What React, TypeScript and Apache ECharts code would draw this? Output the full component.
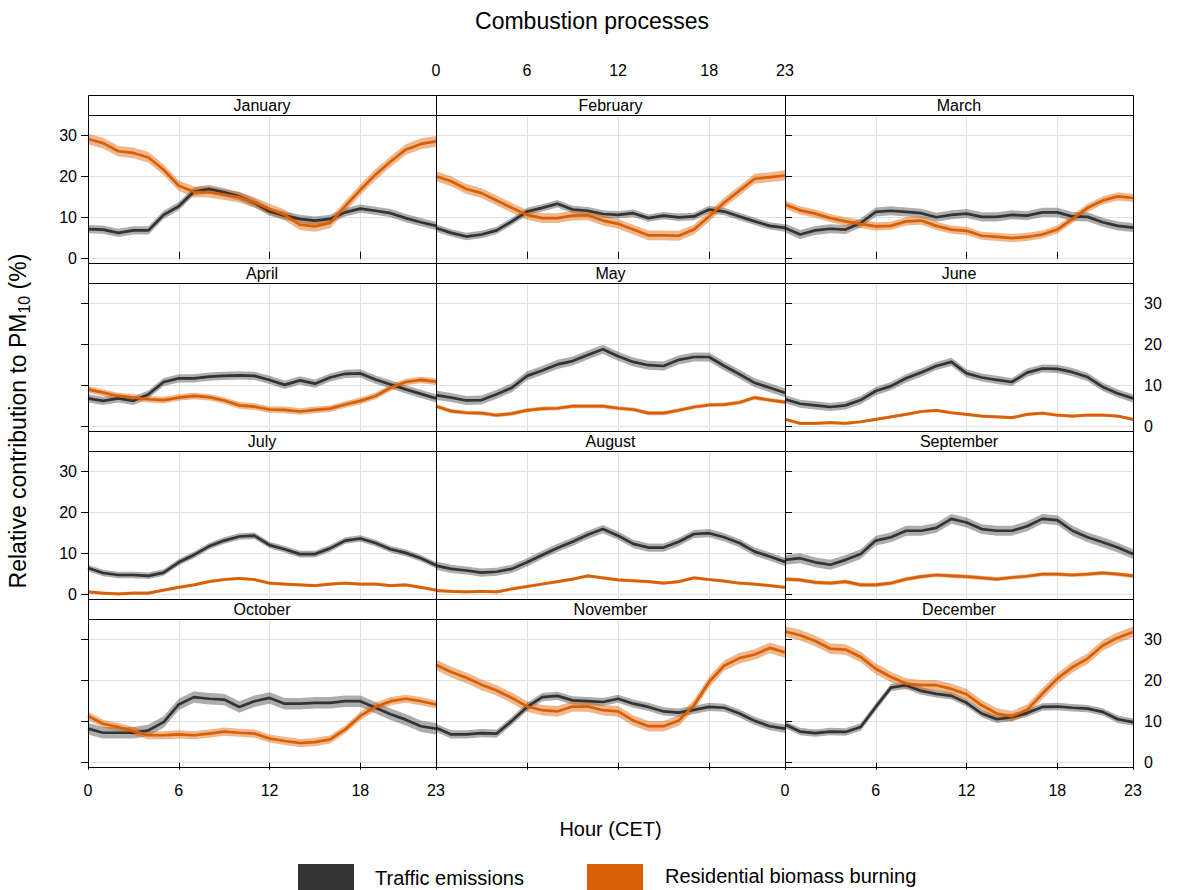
import React, { useEffect, useRef } from "react";
import * as echarts from "echarts";

// Hour of day (CET)
const hours = [0, 1, 2, 3, 4, 5, 6, 7, 8, 9, 10, 11, 12, 13, 14, 15, 16, 17, 18, 19, 20, 21, 22, 23];

const months = [
  "January", "February", "March", "April", "May", "June",
  "July", "August", "September", "October", "November", "December",
];

// Relative contribution to PM10 (%) of traffic emissions, by hour
const trafficJan = [7.2, 7.1, 6.3, 6.9, 6.9, 10.7, 12.8, 16.4, 17.0, 16.2, 15.2, 13.6, 11.5, 10.5, 9.7, 9.3, 9.7, 11.3, 12.2, 11.7, 11.1, 9.9, 8.9, 8.0];
const trafficFeb = [7.5, 6.3, 5.4, 5.9, 6.9, 9.1, 11.5, 12.4, 13.4, 12.0, 11.7, 10.9, 10.7, 11.1, 9.9, 10.5, 10.1, 10.3, 12.0, 11.5, 10.3, 9.1, 8.0, 7.5];
const trafficMar = [7.5, 5.9, 6.9, 7.3, 7.1, 8.7, 11.4, 11.7, 11.4, 11.1, 10.1, 10.7, 11.0, 10.2, 10.2, 10.7, 10.5, 11.3, 11.3, 10.3, 10.2, 8.9, 8.0, 7.6];
const trafficApr = [6.9, 6.3, 6.9, 6.3, 7.9, 10.9, 11.8, 11.8, 12.2, 12.4, 12.5, 12.4, 11.4, 10.2, 11.3, 10.5, 12.0, 12.9, 13.0, 11.5, 10.3, 9.1, 8.0, 6.9];
const trafficMay = [7.7, 7.1, 6.4, 6.5, 7.9, 9.5, 12.4, 13.7, 15.2, 16.0, 17.5, 18.9, 17.2, 15.8, 15.0, 14.8, 16.3, 17.0, 17.0, 14.8, 12.8, 10.7, 9.5, 8.3];
const trafficJun = [6.7, 5.6, 5.2, 4.8, 5.2, 6.5, 8.7, 9.9, 11.8, 13.2, 14.8, 15.8, 13.0, 12.0, 11.4, 10.9, 13.2, 14.2, 14.1, 13.3, 12.1, 9.7, 8.1, 6.9];
const trafficJul = [6.5, 5.3, 4.8, 4.8, 4.6, 5.4, 7.9, 9.7, 11.8, 13.2, 14.2, 14.4, 12.1, 11.1, 9.9, 9.9, 11.3, 13.2, 13.7, 12.6, 11.1, 10.2, 8.9, 7.2];
const trafficAug = [7.1, 6.3, 5.9, 5.4, 5.6, 6.3, 7.9, 9.7, 11.4, 12.9, 14.6, 16.0, 14.4, 12.4, 11.5, 11.5, 12.9, 14.8, 15.0, 14.0, 12.6, 10.5, 9.3, 8.0];
const trafficSep = [8.5, 8.9, 7.9, 7.3, 8.5, 9.9, 13.2, 14.0, 15.6, 15.6, 16.3, 18.5, 17.6, 16.0, 15.6, 15.6, 16.7, 18.5, 18.2, 15.6, 14.0, 12.8, 11.5, 9.9];
const trafficOct = [8.3, 7.3, 7.3, 7.3, 7.9, 9.9, 14.2, 16.0, 15.6, 15.4, 13.6, 15.0, 15.8, 14.4, 14.4, 14.6, 14.6, 15.0, 15.0, 13.4, 11.8, 10.5, 8.9, 8.3];
const trafficNov = [8.5, 6.9, 6.9, 7.2, 7.1, 10.2, 13.6, 16.0, 16.3, 15.2, 15.0, 14.8, 15.6, 14.4, 13.6, 12.5, 12.2, 12.9, 13.6, 13.4, 12.0, 10.2, 8.9, 8.3];
const trafficDec = [9.3, 7.6, 7.2, 7.6, 7.5, 8.7, 13.6, 18.3, 18.9, 17.5, 16.8, 16.3, 14.6, 12.0, 10.6, 11.1, 12.1, 13.6, 13.7, 13.4, 13.2, 12.4, 10.6, 9.9];

// Relative contribution to PM10 (%) of residential biomass burning, by hour
const biomassJan = [29.2, 28.2, 26.2, 25.8, 24.7, 21.7, 17.8, 16.3, 16.2, 15.6, 15.0, 13.7, 12.1, 10.7, 8.3, 7.9, 8.7, 12.8, 16.8, 20.5, 23.7, 26.6, 28.0, 28.6];
const biomassFeb = [20.1, 18.9, 17.0, 16.0, 14.2, 12.4, 10.7, 9.9, 9.9, 10.5, 10.6, 9.3, 8.5, 7.1, 5.7, 5.7, 5.6, 7.1, 10.3, 13.7, 16.6, 19.5, 19.9, 20.3];
const biomassMar = [13.2, 11.8, 11.0, 9.9, 9.1, 8.5, 7.9, 8.0, 9.1, 9.3, 8.0, 7.1, 6.8, 5.6, 5.3, 5.0, 5.3, 5.9, 7.1, 9.7, 12.4, 14.2, 15.2, 14.8];
const biomassApr = [9.1, 8.3, 7.5, 7.1, 6.7, 6.5, 7.1, 7.5, 7.2, 6.4, 5.2, 4.9, 4.2, 4.1, 3.7, 4.1, 4.4, 5.4, 6.3, 7.5, 9.5, 10.9, 11.4, 11.0];
const biomassMay = [5.0, 3.8, 3.4, 3.3, 2.8, 3.2, 4.0, 4.4, 4.5, 5.0, 5.0, 5.0, 4.5, 4.2, 3.3, 3.3, 4.0, 4.8, 5.3, 5.4, 5.9, 7.1, 6.5, 6.0];
const biomassJun = [1.8, 0.8, 0.8, 1.0, 0.8, 1.2, 1.8, 2.4, 3.0, 3.7, 4.0, 3.4, 3.0, 2.6, 2.4, 2.2, 3.0, 3.3, 2.8, 2.6, 2.8, 2.8, 2.6, 1.8];
const biomassJul = [0.7, 0.4, 0.2, 0.4, 0.4, 1.1, 1.8, 2.4, 3.2, 3.7, 4.0, 3.7, 2.8, 2.6, 2.4, 2.2, 2.6, 2.8, 2.6, 2.6, 2.2, 2.4, 1.8, 1.1];
const biomassAug = [1.0, 0.8, 0.7, 0.8, 0.7, 1.4, 2.0, 2.6, 3.2, 3.8, 4.6, 4.1, 3.6, 3.4, 3.2, 2.8, 3.2, 4.1, 3.7, 3.3, 2.8, 2.6, 2.2, 1.8];
const biomassSep = [3.8, 3.6, 3.0, 2.8, 3.2, 2.4, 2.4, 2.8, 3.8, 4.4, 4.8, 4.6, 4.4, 4.1, 3.8, 4.2, 4.5, 5.0, 5.0, 4.8, 5.0, 5.3, 5.0, 4.6];
const biomassOct = [11.4, 9.5, 8.7, 7.7, 6.7, 6.7, 6.9, 6.7, 7.1, 7.6, 7.3, 7.1, 5.9, 5.3, 4.8, 5.0, 5.7, 8.1, 11.4, 13.6, 15.0, 15.6, 15.0, 14.2];
const biomassNov = [23.9, 22.1, 20.7, 19.0, 17.6, 15.8, 13.7, 12.8, 12.5, 13.7, 13.7, 12.8, 12.5, 10.3, 8.9, 8.9, 10.3, 14.0, 19.7, 23.7, 25.5, 26.4, 28.0, 26.9];
const biomassDec = [32.0, 31.1, 29.7, 27.8, 27.6, 25.8, 22.9, 20.9, 19.3, 18.9, 18.9, 18.0, 16.7, 14.0, 12.0, 11.3, 12.9, 16.8, 20.5, 23.3, 25.4, 28.6, 30.5, 31.9];

// Half-width of the confidence band per month
const trafficBand = [1.0, 0.9, 1.1, 1.0, 1.1, 1.0, 0.8, 1.0, 1.2, 1.4, 1.0, 0.9];
const biomassBand = [1.3, 1.2, 1.0, 0.8, 0.5, 0.4, 0.4, 0.4, 0.5, 1.0, 1.3, 1.3];

const xTicks = [0, 6, 12, 18, 23];
const yTicks = [0, 10, 20, 30];

const trafficByMonth = [trafficJan, trafficFeb, trafficMar, trafficApr, trafficMay, trafficJun, trafficJul, trafficAug, trafficSep, trafficOct, trafficNov, trafficDec];
const biomassByMonth = [biomassJan, biomassFeb, biomassMar, biomassApr, biomassMay, biomassJun, biomassJul, biomassAug, biomassSep, biomassOct, biomassNov, biomassDec];

const FONT = "'Liberation Sans', Arial, Helvetica, sans-serif";
const TRAFFIC = "#333333";
const BIOMASS = "#d95f02";
const TRAFFIC_FILL = "rgba(51,51,51,0.4)";
const BIOMASS_FILL = "rgba(217,95,2,0.45)";

const LEFT = 88;
const RIGHT = 1133;
const TOP = 95;
const STRIP_H = 20;
const ROW_H = 168;
const COL_W = (RIGHT - LEFT) / 3;
const Y_MIN = -1.05;
const Y_MAX = 35.05;

// Polygon band between lower and upper bounds, drawn once per series
function bandSeries(i: number, values: number[], half: number, fill: string, name: string) {
  const data = hours.map((h) => [h, values[h] - half, values[h] + half]);
  return {
    type: "custom",
    name,
    xAxisIndex: i,
    yAxisIndex: i,
    silent: true,
    encode: { x: 0, y: [1, 2] },
    data,
    renderItem: (params: any, api: any) => {
      if (params.dataIndex !== 0) return null;
      const upper = data.map((d) => api.coord([d[0], d[2]]));
      const lower = data.map((d) => api.coord([d[0], d[1]])).reverse();
      return {
        type: "polygon",
        shape: { points: upper.concat(lower) },
        style: { fill, stroke: "none" },
      };
    },
  };
}

function buildOption() {
  const grid: any[] = [];
  const xAxis: any[] = [];
  const yAxis: any[] = [];
  const series: any[] = [];
  const graphics: any[] = [];

  months.forEach((name, i) => {
    const r = Math.floor(i / 3);
    const c = i % 3;
    const x0 = Math.round(LEFT + c * COL_W);
    const x1 = Math.round(LEFT + (c + 1) * COL_W);
    const stripTop = TOP + r * ROW_H;
    const plotTop = stripTop + STRIP_H;
    const plotH = ROW_H - STRIP_H;

    grid.push({ left: x0, top: plotTop, width: x1 - x0, height: plotH, containLabel: false });

    const showXTicks = r === 0 || r === 3;
    const showXLabels = (r === 0 && c === 1) || (r === 3 && c !== 1);
    xAxis.push({
      gridIndex: i,
      type: "value",
      min: 0,
      max: 23,
      position: r === 0 ? "top" : "bottom",
      offset: r === 0 ? STRIP_H : 0,
      axisLine: { show: false },
      axisTick: { show: showXTicks, length: 7, customValues: xTicks, lineStyle: { color: "#000", width: 1 } },
      axisLabel: {
        show: showXLabels,
        customValues: xTicks,
        color: "#000",
        fontSize: 16,
        fontFamily: FONT,
        margin: r === 0 ? 17 : 15,
        showMinLabel: true,
        showMaxLabel: true,
      },
      splitLine: { show: true, lineStyle: { color: "#e0e0e0", width: 1 } },
    });

    const showYTicks = c !== 1;
    const showYLabels = (c === 0 && (r === 0 || r === 2)) || (c === 2 && (r === 1 || r === 3));
    yAxis.push({
      gridIndex: i,
      type: "value",
      min: Y_MIN,
      max: Y_MAX,
      position: c === 2 ? "right" : "left",
      axisLine: { show: false },
      axisTick: { show: showYTicks, length: 7, customValues: yTicks, lineStyle: { color: "#000", width: 1 } },
      axisLabel: {
        show: showYLabels,
        customValues: yTicks,
        color: "#000",
        fontSize: 16,
        fontFamily: FONT,
        margin: 11,
      },
      splitLine: { show: true, lineStyle: { color: "#e0e0e0", width: 1 } },
    });

    const traffic = trafficByMonth[i];
    const biomass = biomassByMonth[i];

    series.push(bandSeries(i, traffic, trafficBand[i], TRAFFIC_FILL, "Traffic emissions band"));
    series.push(bandSeries(i, biomass, biomassBand[i], BIOMASS_FILL, "Residential biomass burning band"));
    series.push({
      type: "line",
      name: "Traffic emissions",
      xAxisIndex: i,
      yAxisIndex: i,
      symbol: "none",
      lineStyle: { color: TRAFFIC, width: 2.7 },
      itemStyle: { color: TRAFFIC },
      data: hours.map((h) => [h, traffic[h]]),
    });
    series.push({
      type: "line",
      name: "Residential biomass burning",
      xAxisIndex: i,
      yAxisIndex: i,
      symbol: "none",
      lineStyle: { color: BIOMASS, width: 2.7 },
      itemStyle: { color: BIOMASS },
      data: hours.map((h) => [h, biomass[h]]),
    });

    // strip with month name
    graphics.push({
      type: "rect",
      z: 50,
      shape: { x: x0 + 0.5, y: stripTop + 0.5, width: x1 - x0, height: STRIP_H },
      style: { fill: "#ffffff", stroke: "#000", lineWidth: 1 },
    });
    graphics.push({
      type: "text",
      z: 51,
      x: (x0 + x1) / 2,
      y: stripTop + STRIP_H / 2,
      style: { text: name, fontSize: 16, fontFamily: FONT, fill: "#000", align: "center", verticalAlign: "middle" },
    });
    // panel frame
    graphics.push({
      type: "rect",
      z: 50,
      shape: { x: x0 + 0.5, y: plotTop + 0.5, width: x1 - x0, height: plotH },
      style: { fill: "none", stroke: "#000", lineWidth: 1 },
    });
  });

  graphics.push({
    type: "text",
    x: 592,
    y: 21,
    style: { text: "Combustion processes", fontSize: 23, fontFamily: FONT, fill: "#000", align: "center", verticalAlign: "middle" },
  });
  graphics.push({
    type: "text",
    x: (LEFT + RIGHT) / 2,
    y: 829,
    style: { text: "Hour (CET)", fontSize: 20, fontFamily: FONT, fill: "#000", align: "center", verticalAlign: "middle" },
  });
  graphics.push({
    type: "text",
    x: 18,
    y: 421,
    rotation: Math.PI / 2,
    style: {
      text: "{base|Relative contribution to PM}{sub|10}{base| (%)}",
      fontFamily: FONT,
      fill: "#000",
      align: "center",
      verticalAlign: "middle",
      rich: {
        base: { fontSize: 23, lineHeight: 28, fontFamily: FONT, fill: "#000" },
        sub: { fontSize: 16, lineHeight: 16, fontFamily: FONT, fill: "#000", verticalAlign: "bottom" },
      },
    },
  });

  // key
  graphics.push({ type: "rect", shape: { x: 298, y: 864, width: 56, height: 30 }, style: { fill: TRAFFIC } });
  graphics.push({
    type: "text",
    x: 375,
    y: 878,
    style: { text: "Traffic emissions", fontSize: 20, fontFamily: FONT, fill: "#000", align: "left", verticalAlign: "middle" },
  });
  graphics.push({ type: "rect", shape: { x: 587, y: 864, width: 56, height: 30 }, style: { fill: BIOMASS } });
  graphics.push({
    type: "text",
    x: 665,
    y: 876,
    style: { text: "Residential biomass burning", fontSize: 20, fontFamily: FONT, fill: "#000", align: "left", verticalAlign: "middle" },
  });

  return {
    animation: false,
    backgroundColor: "#ffffff",
    grid,
    xAxis,
    yAxis,
    series,
    graphic: { elements: graphics },
  };
}

export default function App() {
  const ref = useRef<HTMLDivElement>(null);

  useEffect(() => {
    document.body.style.margin = "0";
    if (!ref.current) return;
    const chart = echarts.init(ref.current, undefined, { renderer: "svg" });
    chart.setOption(buildOption() as any);
    return () => chart.dispose();
  }, []);

  return <div ref={ref} style={{ width: 1179, height: 890 }} />;
}
